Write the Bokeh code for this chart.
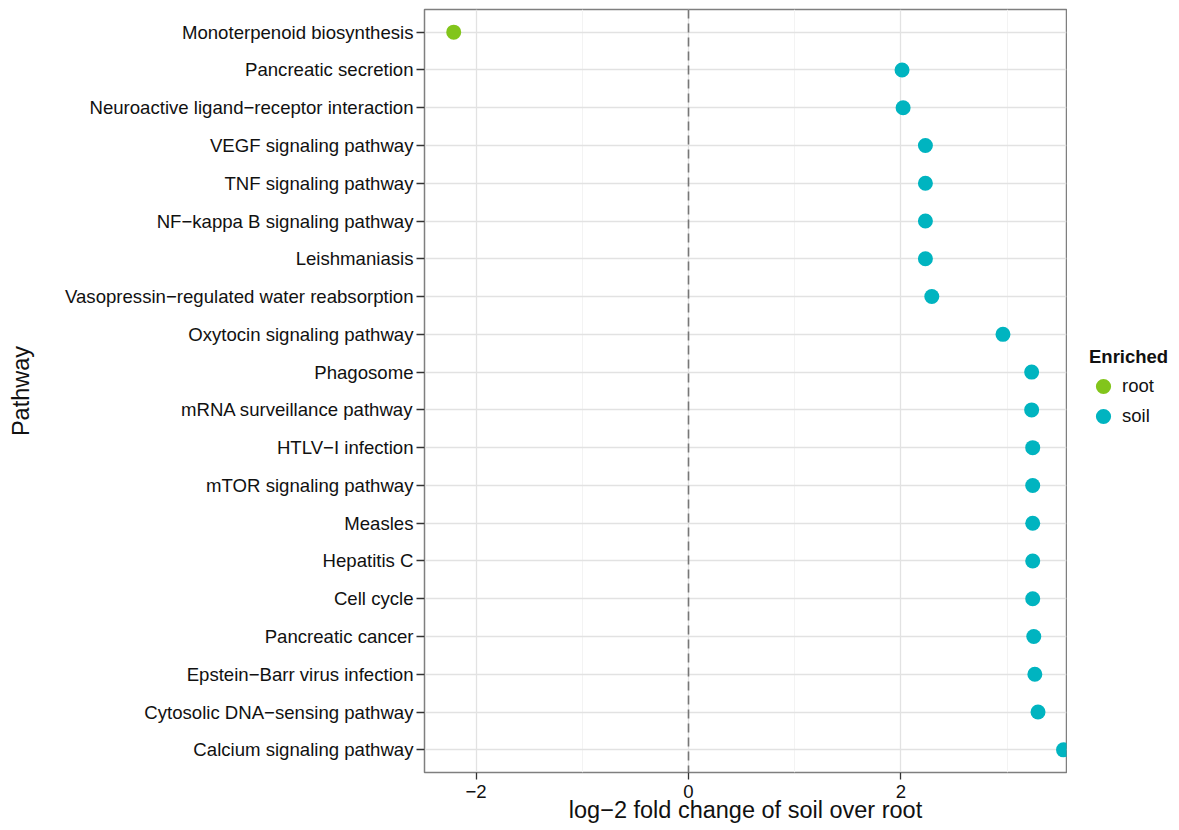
from bokeh.plotting import figure
from bokeh.layouts import row
from bokeh.models import FactorRange, Range1d, FixedTicker, Span, Legend, LegendItem
from bokeh.embed import file_html
from bokeh.resources import INLINE

pathways = [
    "Monoterpenoid biosynthesis",
    "Pancreatic secretion",
    "Neuroactive ligand\u2212receptor interaction",
    "VEGF signaling pathway",
    "TNF signaling pathway",
    "NF\u2212kappa B signaling pathway",
    "Leishmaniasis",
    "Vasopressin\u2212regulated water reabsorption",
    "Oxytocin signaling pathway",
    "Phagosome",
    "mRNA surveillance pathway",
    "HTLV\u2212I infection",
    "mTOR signaling pathway",
    "Measles",
    "Hepatitis C",
    "Cell cycle",
    "Pancreatic cancer",
    "Epstein\u2212Barr virus infection",
    "Cytosolic DNA\u2212sensing pathway",
    "Calcium signaling pathway",
]
log2fc = [-2.21, 2.01, 2.02, 2.23, 2.23, 2.23, 2.23, 2.29, 2.96, 3.23,
          3.23, 3.24, 3.24, 3.24, 3.24, 3.24, 3.25, 3.26, 3.29, 3.53]
enriched = ["root"] + ["soil"] * 19
groups = ["root", "soil"]
group_colors = ["#82c51b", "#00b4c0"]
x_ticks = [-2, 0, 2]
x_minor = [-3, -1, 1, 3]

FONT = "Liberation Sans"
FIG_H = 826

p = figure(
    y_range=FactorRange(factors=pathways[::-1], range_padding=0.1, range_padding_units="absolute"),
    x_range=Range1d(-2.485, 3.558),
    width=1067, height=FIG_H,
    min_border_left=424, min_border_right=1, min_border_top=9, min_border_bottom=54,
    output_backend="svg", toolbar_location=None,
    background_fill_color="white", border_fill_color="white",
)
p.outline_line_color = "#7f7f7f"
p.outline_line_width = 1.5

# grids
p.xgrid.ticker = FixedTicker(ticks=x_ticks, minor_ticks=x_minor)
p.xgrid.grid_line_color = "#e2e2e2"
p.xgrid.grid_line_width = 1.3
p.xgrid.minor_grid_line_color = "#f3f3f3"
p.xgrid.minor_grid_line_width = 1.0
p.ygrid.grid_line_color = "#e2e2e2"
p.ygrid.grid_line_width = 1.3

# x axis
xa = p.xaxis[0]
xa.ticker = FixedTicker(ticks=x_ticks, minor_ticks=x_minor)
xa.axis_line_color = None
xa.major_tick_line_color = "#333333"
xa.major_tick_line_width = 1.3
xa.major_tick_out = 7
xa.major_tick_in = 0
xa.minor_tick_line_color = None
xa.major_label_text_font = FONT
xa.major_label_text_font_size = "18.6px"
xa.major_label_text_color = "#111111"
xa.major_label_standoff = 5
xa.axis_label = "log\u22122 fold change of soil over root"
xa.axis_label_text_font = FONT
xa.axis_label_text_font_size = "23.5px"
xa.axis_label_text_font_style = "normal"
xa.axis_label_text_color = "#111111"
xa.axis_label_standoff = -4

# y axis
ya = p.yaxis[0]
ya.axis_line_color = None
ya.major_tick_line_color = "#333333"
ya.major_tick_line_width = 1.3
ya.major_tick_out = 8
ya.major_tick_in = 0
ya.major_label_text_font = FONT
ya.major_label_text_font_size = "18.6px"
ya.major_label_text_color = "#111111"
ya.major_label_standoff = 3
ya.axis_label = "Pathway"
ya.axis_label_text_font = FONT
ya.axis_label_text_font_size = "23.5px"
ya.axis_label_text_font_style = "normal"
ya.axis_label_text_color = "#111111"
ya.axis_label_standoff = 28

# zero line
p.add_layout(Span(location=0, dimension="height", line_color="#777777",
                  line_width=1.6, line_dash="9 5"))

group_data = {}
for g, c in zip(groups, group_colors):
    xs = [v for v, e in zip(log2fc, enriched) if e == g]
    ys = [n for n, e in zip(pathways, enriched) if e == g]
    group_data[g] = (xs, ys)
    p.scatter(x=xs, y=ys, size=15, fill_color=c, line_color=c, line_width=0)

# legend panel: a separate figure to the right of the plot; its renderers
# carry the same group data but its ranges keep the points out of view.
lf = figure(width=112, height=FIG_H, min_border=0,
            x_range=Range1d(100, 101), y_range=FactorRange(factors=pathways),
            output_backend="svg", toolbar_location=None,
            background_fill_color="white", border_fill_color="white")
lf.axis.visible = False
lf.grid.visible = False
lf.outline_line_color = None
items = []
for g, c in zip(groups, group_colors):
    xs, ys = group_data[g]
    r = lf.scatter(x=xs, y=ys, size=15, fill_color=c, line_color=c, line_width=4)
    items.append(LegendItem(label=g, renderers=[r], index=0))

legend = Legend(items=items, title="Enriched", location=(22, 341),
                title_text_font=FONT, title_text_font_size="18.5px",
                title_text_font_style="bold", title_text_color="#111111",
                title_standoff=3,
                label_text_font=FONT, label_text_font_size="18.5px",
                label_text_color="#111111",
                glyph_width=28, glyph_height=30, label_height=30,
                label_standoff=5, spacing=0,
                margin=0, padding=10,
                border_line_color=None, background_fill_alpha=0)
lf.add_layout(legend, "center")

layout = row(p, lf, spacing=0)
open("out.html", "w").write(file_html(layout, INLINE))
